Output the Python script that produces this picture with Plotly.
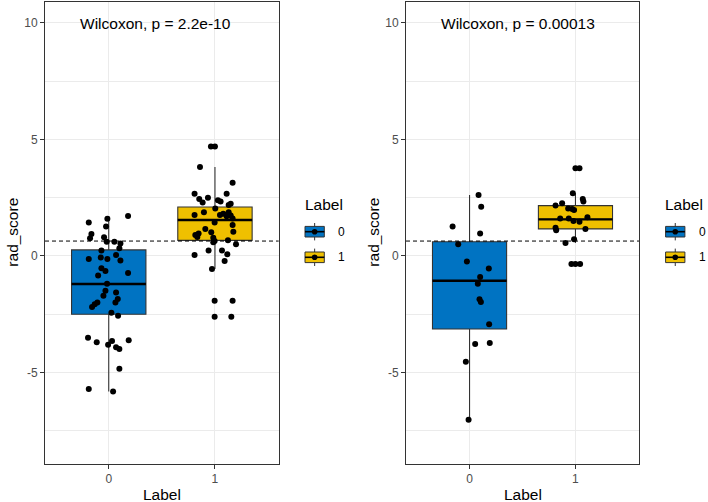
import plotly.graph_objects as go

# ---------------- data ----------------
categories = ["0", "1"]
colors = ["#0073C2", "#EFC000"]
cutoff = 0.64
p_labels = ["Wilcoxon, p = 2.2e-10", "Wilcoxon, p = 0.00013"]
y_ticks = [-5, 0, 5, 10]
y_ticktext = ["-5", "0", "5", "10"]
y_minor = [-7.5, -2.5, 2.5, 7.5]

# panel 1 (left)
left0_y = [1.43, 1.60, 1.71, 1.26, 0.94, 0.76, 0.80, 0.61, 0.61, 0.54, 0.33, 0.23,
           -0.13, -0.07, -0.13, 0.04, -0.19, -0.53, -0.64, -0.84, -0.73, -1.19,
           -1.49, -1.57, -1.71, -1.84, -1.99, -1.99, -2.07, -2.19, -2.43, -2.56,
           -3.50, -3.70, -3.81, -3.64, -3.91, -3.99, -3.61, -4.83, -5.70, -5.81]
left0_jit = [-0.188, -0.013, 0.182, -0.025, -0.163, -0.176, -0.044, -0.019, 0.053, 0.110,
             0.100, -0.069, -0.188, -0.075, -0.013, 0.069, 0.110, -0.069, -0.031, -0.100,
             0.182, -0.016, -0.031, 0.069, -0.050, 0.085, 0.063, -0.107, -0.132, -0.157,
             0.025, 0.088, -0.195, -0.113, -0.006, 0.031, 0.069, 0.100, 0.188, 0.100,
             -0.188, 0.041]
left1_y = [4.69, 4.69, 3.81, 3.14, 2.67, 2.67, 2.44, 2.29, 2.50, 2.39, 2.33, 2.19, 2.24,
           2.04, 1.76, 1.87, 1.76, 1.81, 1.70, 1.87, 1.73, 1.61, 1.44, 1.33, 1.16, 1.04,
           1.02, 0.90, 0.96, 0.81, 0.78, 0.64, 0.59, 0.67, 0.50, 0.24, 0.24, 0.04, 0.07,
           -0.21, -0.56, -1.92, -1.92, -2.61, -2.61]
left1_jit = [-0.038, 0.0, -0.141, 0.166, -0.192, 0.110, -0.148, -0.116, -0.066, 0.028,
             0.053, 0.129, 0.148, 0.003, -0.192, -0.104, 0.047, 0.078, 0.110, 0.129,
             0.148, 0.166, -0.003, 0.166, -0.091, 0.173, -0.035, -0.185, -0.154, -0.166,
             -0.016, -0.003, -0.016, 0.122, 0.198, -0.060, 0.066, -0.192, 0.116, 0.091,
             -0.028, -0.003, 0.166, -0.003, 0.154]
left_q1 = [-2.50, 0.67]
left_median = [-1.20, 1.54]
left_q3 = [0.26, 2.10]
left_lower = [-5.81, -0.56]
left_upper = [1.71, 3.81]

# panel 2 (right)
right0_y = [2.61, 2.11, 1.26, 0.96, 0.50, -0.24, -0.54, -0.90, -1.19, -1.86, -1.97,
            -2.93, -3.77, -3.73, -4.53, -7.02]
right0_jit = [0.085, 0.110, -0.160, 0.100, -0.107, -0.025, 0.182, 0.100, 0.078, 0.094,
              0.107, 0.185, 0.053, 0.191, -0.035, -0.009]
right1_y = [3.76, 3.76, 2.69, 2.44, 2.33, 2.26, 2.16, 2.04, 2.01, 1.97, 1.61, 1.61, 1.66,
            1.50, 1.47, 1.16, 1.21, 1.10, 0.72, 0.56, -0.34, -0.34, -0.34]
right1_jit = [0.0, 0.038, -0.025, 0.069, 0.075, -0.126, -0.188, -0.069, -0.031, -0.013,
              -0.144, -0.063, 0.113, -0.019, 0.038, 0.094, -0.188, -0.182, -0.013, -0.094,
              -0.038, 0.0, 0.044]
right_q1 = [-3.13, 1.16]
right_median = [-1.06, 1.57]
right_q3 = [0.61, 2.16]
right_lower = [-7.02, 0.56]
right_upper = [2.61, 2.69]

# ---------------- styling / layout ----------------
W, H = 708, 502
FONT = "Liberation Sans, Arial, sans-serif"
BOX_W = 0.7
panels = [
    dict(pts=[(left0_y, left0_jit), (left1_y, left1_jit)],
         q1=left_q1, med=left_median, q3=left_q3, lo=left_lower, hi=left_upper,
         px=(45, 278.7), label=p_labels[0], legend_left=302.7),
    dict(pts=[(right0_y, right0_jit), (right1_y, right1_jit)],
         q1=right_q1, med=right_median, q3=right_q3, lo=right_lower, hi=right_upper,
         px=(406, 639), label=p_labels[1], legend_left=663.3),
]
Y_TOP_PX, Y_BOT_PX = 1.7, 463.6


def fx(p):
    return p / W


def fy(p):
    return 1 - p / H


fig = go.Figure()
shapes = []
annotations = []

for k, pnl in enumerate(panels):
    xa = "x" if k == 0 else "x2"
    ya = "y" if k == 0 else "y2"
    for i, cat in enumerate(categories):
        fig.add_trace(go.Box(
            x=[i], q1=[pnl["q1"][i]], median=[pnl["med"][i]], q3=[pnl["q3"][i]],
            lowerfence=[pnl["lo"][i]], upperfence=[pnl["hi"][i]],
            width=BOX_W, whiskerwidth=0, boxpoints=False,
            fillcolor=colors[i], line=dict(color="#333333", width=1.1),
            xaxis=xa, yaxis=ya, showlegend=False, hoverinfo="skip"))
        # thicker median line (ggplot fatten)
        fig.add_trace(go.Scatter(
            x=[i - BOX_W / 2, i + BOX_W / 2], y=[pnl["med"][i]] * 2, mode="lines",
            line=dict(color="black", width=2.4), xaxis=xa, yaxis=ya,
            showlegend=False, hoverinfo="skip"))
    for i, (yy, jj) in enumerate(pnl["pts"]):
        fig.add_trace(go.Scatter(
            x=[i + j for j in jj], y=yy, mode="markers",
            marker=dict(color="black", size=6, line=dict(width=0)),
            xaxis=xa, yaxis=ya, showlegend=False, hoverinfo="skip"))

    # dashed cutoff line
    shapes.append(dict(type="line", xref=f"{xa} domain", x0=0, x1=1, yref=ya,
                       y0=cutoff, y1=cutoff,
                       line=dict(color="black", width=1, dash="4px,3px")))
    # p-value label
    annotations.append(dict(text=pnl["label"], x=-0.285, y=9.95, xref=xa, yref=ya,
                            xanchor="left", yanchor="middle", showarrow=False,
                            font=dict(size=15.5, color="black", family=FONT)))
    # axis titles
    x0, x1 = pnl["px"]
    annotations.append(dict(text="Label", x=fx((x0 + x1) / 2), y=fy(494), xref="paper",
                            yref="paper", xanchor="center", yanchor="middle",
                            showarrow=False, font=dict(size=15.5, color="black", family=FONT)))
    annotations.append(dict(text="rad_score", x=fx(x0 - 32), y=fy((Y_TOP_PX + Y_BOT_PX) / 2),
                            xref="paper", yref="paper", xanchor="center", yanchor="middle",
                            textangle=-90, showarrow=False,
                            font=dict(size=15.5, color="black", family=FONT)))
    # legend (drawn by hand, ggplot style)
    L = pnl["legend_left"]
    annotations.append(dict(text="Label", x=fx(L), y=fy(204), xref="paper", yref="paper",
                            xanchor="left", yanchor="middle", showarrow=False,
                            font=dict(size=15.5, color="black", family=FONT)))
    for i, cat in enumerate(categories):
        cy = 231.7 + i * 25.6
        kl, kr = L + 2.3, L + 21.6
        kc = (kl + kr) / 2
        shapes.append(dict(type="line", xref="paper", yref="paper",
                           x0=fx(kc), x1=fx(kc), y0=fy(cy - 8.7), y1=fy(cy + 8.7),
                           line=dict(color="#333333", width=1)))
        shapes.append(dict(type="rect", xref="paper", yref="paper",
                           x0=fx(kl), x1=fx(kr), y0=fy(cy - 5.3), y1=fy(cy + 5.3),
                           fillcolor=colors[i], line=dict(color="#333333", width=1)))
        shapes.append(dict(type="line", xref="paper", yref="paper",
                           x0=fx(kl), x1=fx(kr), y0=fy(cy), y1=fy(cy),
                           line=dict(color="black", width=1.6)))
        shapes.append(dict(type="circle", xref="paper", yref="paper",
                           x0=fx(kc - 2.8), x1=fx(kc + 2.8), y0=fy(cy - 2.8), y1=fy(cy + 2.8),
                           fillcolor="black", line=dict(width=0)))
        annotations.append(dict(text=cat, x=fx(L + 33.3), y=fy(cy), xref="paper",
                                yref="paper", xanchor="left", yanchor="middle",
                                showarrow=False,
                                font=dict(size=12, color="black", family=FONT)))

axis_common = dict(showline=True, mirror=True, linecolor="#333333", linewidth=1,
                   ticks="outside", ticklen=4, tickwidth=1, tickcolor="#333333",
                   showgrid=True, gridcolor="#EBEBEB", gridwidth=1, zeroline=False,
                   tickfont=dict(size=12, color="#4D4D4D", family=FONT))

for k, pnl in enumerate(panels):
    x0, x1 = pnl["px"]
    xkey = "xaxis" if k == 0 else "xaxis2"
    ykey = "yaxis" if k == 0 else "yaxis2"
    fig.update_layout(**{
        xkey: dict(domain=[fx(x0), fx(x1)], range=[-0.6, 1.6], tickvals=[0, 1],
                   ticktext=categories, anchor="y" if k == 0 else "y2", **axis_common),
        ykey: dict(domain=[fy(Y_BOT_PX), fy(Y_TOP_PX)], range=[-8.9, 10.9],
                   tickvals=y_ticks, ticktext=y_ticktext,
                   anchor="x" if k == 0 else "x2",
                   minor=dict(tickvals=y_minor, showgrid=True, gridcolor="#EBEBEB",
                              gridwidth=0.6, ticks=""),
                   **axis_common),
    })

fig.update_layout(width=W, height=H, margin=dict(l=0, r=0, t=0, b=0),
                  plot_bgcolor="white", paper_bgcolor="white", showlegend=False,
                  shapes=shapes, annotations=annotations,
                  font=dict(family=FONT))

fig.write_html("out.html", config={"displayModeBar": False},
               post_script="document.body.style.margin='0px';"
                           "document.body.style.overflow='hidden';")
